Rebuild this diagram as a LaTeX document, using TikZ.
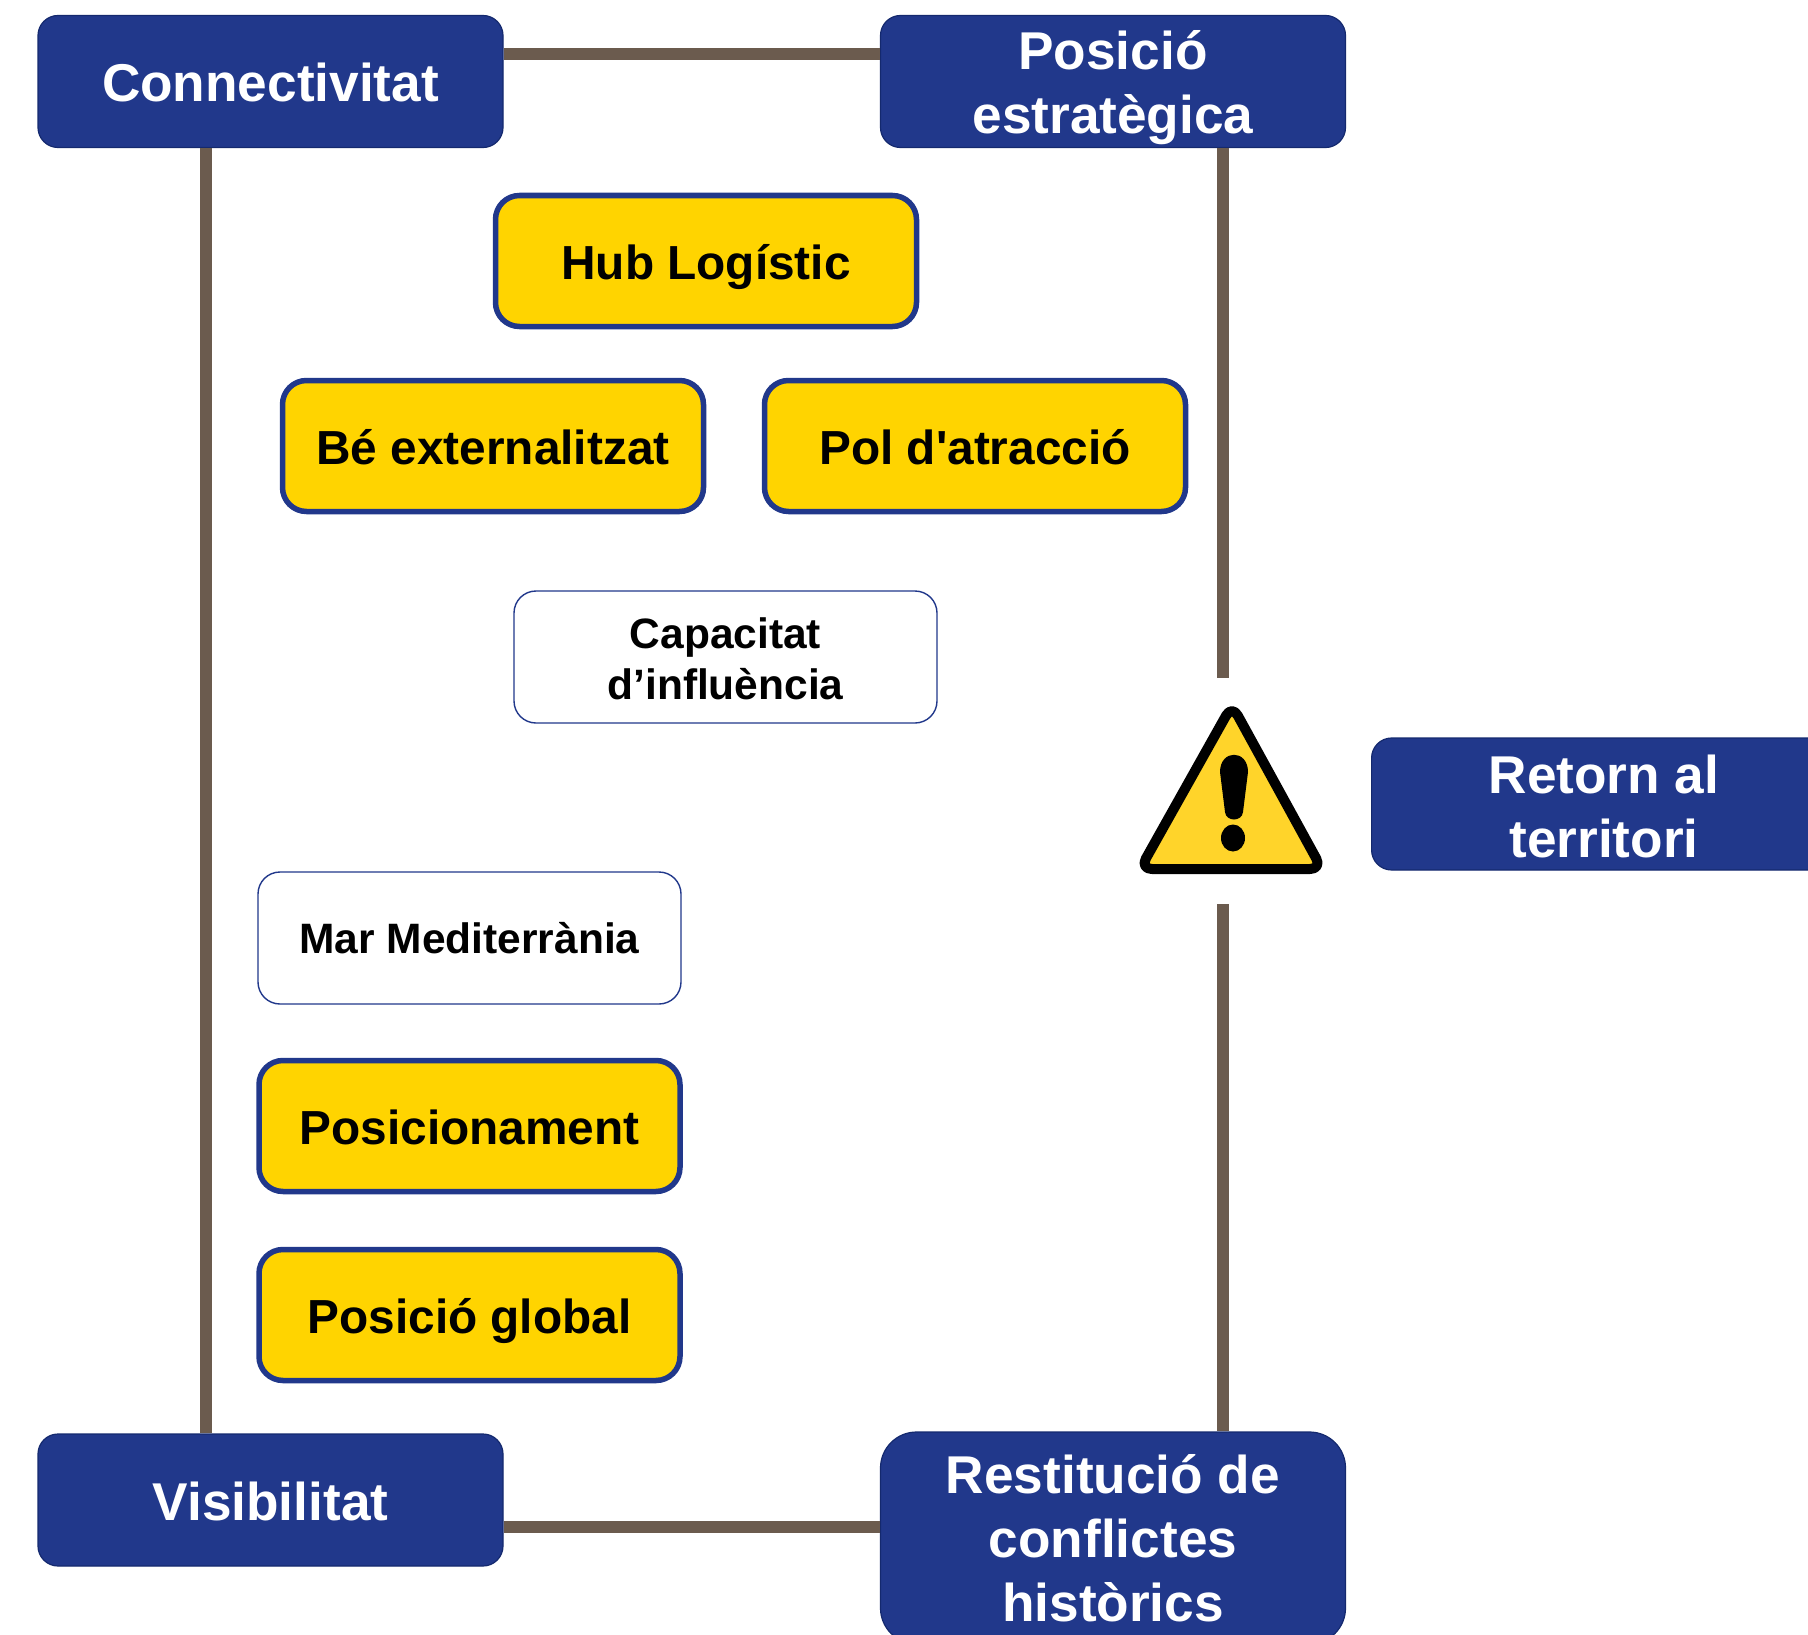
\documentclass[tikz,border=0pt]{standalone}
\usepackage{fontspec}
\setmainfont{Liberation Sans}
\newfontfamily\straightfont{Liberation Sans}
\definecolor{navy}{HTML}{21388B}
\definecolor{navyedge}{HTML}{14296E}
\definecolor{gold}{HTML}{FFD400}
\definecolor{warnfill}{HTML}{FFD42A}
\definecolor{brownline}{HTML}{6B5B4E}
\tikzset{
  basebox/.style={rounded corners=22pt,inner sep=0pt,align=center,font=\bfseries,minimum width=#1},
  navybox/.style={basebox=465pt,minimum height=132pt,fill=navy,draw=navyedge,line width=1.2pt,text=white,
    rounded corners=20pt,font=\bfseries\fontsize{53.2}{64}\selectfont},
  goldbox/.style={basebox=421pt,minimum height=131pt,fill=gold,draw=navy,line width=5.5pt,text=black,
    rounded corners=24pt,text height=37pt,text depth=0pt,font=\bfseries\fontsize{47.8}{58}\selectfont},
  whitebox/.style={basebox=423pt,minimum height=132pt,fill=white,draw=navy,line width=1.4pt,text=black,
    font=\bfseries\fontsize{42.5}{51}\selectfont},
  link/.style={draw=brownline,line width=12pt,line cap=butt},
}
\begin{document}
\begin{tikzpicture}[x=1pt,y=-1pt]
\useasboundingbox (0,0) rectangle (1808,1635);
\clip (0,0) rectangle (1808,1635);
\coordinate (topy) at (0,54);
\coordinate (boty) at (0,1527);
\coordinate (leftx) at (205.5,0);
\coordinate (rightx) at (1222.5,0);
\coordinate (gaptop) at (1222.5,678);
\coordinate (gapbot) at (1222.5,904);
% corner boxes
\node[navybox,text height=41pt,text depth=0pt] (conn) at (270.5,81.5) {Connectivitat};
\node[navybox] (posi) at (1113,81.5) {\rule{0pt}{52pt}Posició\\estratègica};
\node[navybox,text height=41pt,text depth=0pt] (visi) at (270.5,1500) {Visibilitat};
\node[navybox,minimum height=212pt,rounded corners=36pt] (rest) at (1113,1538) {Restitució de\\conflictes\\històrics};
\node[navybox,minimum width=490pt,anchor=west] (reto) at (1371,804) {};
\node[font=\bfseries\fontsize{53.2}{64}\selectfont,text=white,align=center,inner sep=0pt] (retolabel) at (1604,806) {Retorn al\\territori};
% connectors
\draw[link] (conn.east |- topy) -- (posi.west |- topy);
\draw[link] (visi.east |- boty) -- (rest.west |- boty);
\draw[link] (conn.south -| leftx) -- (visi.north -| leftx);
\draw[link] (posi.south -| rightx) -- (gaptop);
\draw[link] (gapbot) -- (rest.north -| rightx);
% inner boxes
\node[goldbox] (hub) at (706,261) {Hub Logístic};
\node[goldbox] (be) at (493,446) {Bé externalitzat};
\node[goldbox] (pol) at (975,446) {Pol d{\straightfont\bfseries\char39}atracció};
\node[whitebox] (cap) at (725.5,657) {\rule{0pt}{33.5pt}Capacitat\\d’influència};
\node[whitebox] (mar) at (469.5,938) {Mar Mediterrània};
\node[goldbox] (posm) at (469.5,1126) {Posicionament};
\node[goldbox] (posg) at (469.5,1315) {Posició global};
% warning sign
\draw[black,fill=warnfill,line width=10pt,line join=round,rounded corners=12pt]
  (1232,705) -- (1322,869) -- (1140,869) -- cycle;
\fill[black] (1220,772) .. controls (1220,749) and (1248,749) .. (1248,772)
  -- (1243,812) .. controls (1242,822) and (1226,822) .. (1225,812) -- cycle;
\fill[black] (1233,838) ellipse [x radius=12pt,y radius=13.5pt];
\end{tikzpicture}
\end{document}
